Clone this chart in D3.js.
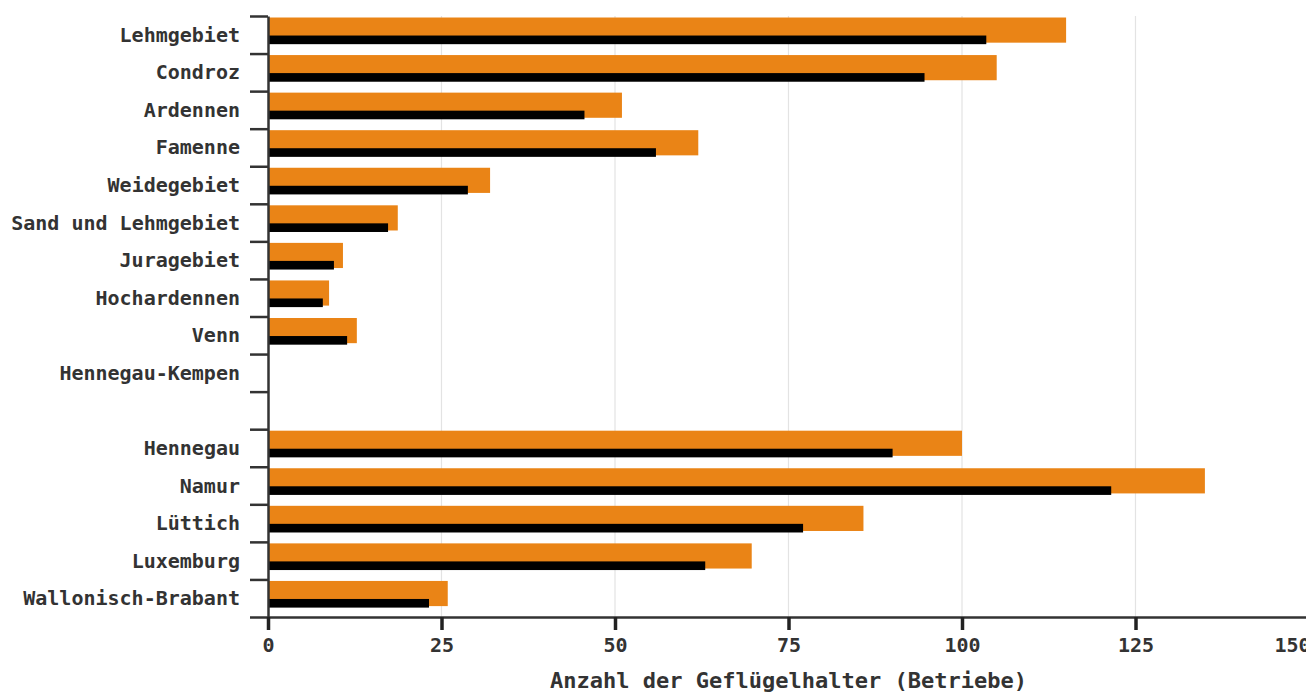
<!DOCTYPE html>
<html>
<head>
<meta charset="utf-8">
<script src="https://cdn.jsdelivr.net/npm/d3@7"></script>
<style>
  body { margin: 0; background: #fff; }
  text { font-family: "DejaVu Sans Mono", monospace; font-weight: bold; fill: #333; }
</style>
</head>
<body>
<script>
// regions (empty string = gap row)
var regions = ["Lehmgebiet", "Condroz", "Ardennen", "Famenne", "Weidegebiet",
  "Sand und Lehmgebiet", "Juragebiet", "Hochardennen", "Venn", "Hennegau-Kempen", "",
  "Hennegau", "Namur", "Lüttich", "Luxemburg", "Wallonisch-Brabant"];

// orange bars (wide) and black bars (narrow)
var orangeValues = [115, 105, 51, 62, 32, 18.7, 10.8, 8.8, 12.8, 0, 0, 100, 135, 85.8, 69.7, 25.9];
var blackValues = [103.5, 94.6, 45.6, 55.9, 28.8, 17.3, 9.5, 7.9, 11.4, 0, 0, 90, 121.5, 77.1, 63, 23.2];

var xTicks = [0, 25, 50, 75, 100, 125, 150];
var xLabel = "Anzahl der Geflügelhalter (Betriebe)";

var margin = {top: 16, left: 268},
    width = 1306,
    height = 693,
    plotWidth = 1041,
    plotHeight = 601;

var svg = d3.select("body").append("svg")
  .attr("width", width)
  .attr("height", height);

var g = svg.append("g")
  .attr("transform", "translate(" + margin.left + "," + margin.top + ")");

var x = d3.scaleLinear().domain([0, 150]).range([0, plotWidth]);

// use index as key so the empty row stays unique
var y = d3.scaleBand().domain(d3.range(regions.length)).range([0, plotHeight]).padding(0);
var step = y.step();

// gridlines
g.selectAll(".grid")
  .data(xTicks.slice(1))
  .enter().append("line")
  .attr("x1", function(d) { return x(d); })
  .attr("x2", function(d) { return x(d); })
  .attr("y1", 0)
  .attr("y2", plotHeight)
  .style("stroke", "#e3e3e3")
  .style("stroke-width", 1.2);

// orange bars
g.selectAll(".orange")
  .data(orangeValues)
  .enter().append("rect")
  .attr("x", 0)
  .attr("y", function(d, i) { return y(i) + step * 0.04; })
  .attr("width", function(d) { return x(d); })
  .attr("height", step * 0.67)
  .style("fill", "#ea8416");

// black bars
g.selectAll(".black")
  .data(blackValues)
  .enter().append("rect")
  .attr("x", 0)
  .attr("y", function(d, i) { return y(i) + step * 0.52; })
  .attr("height", step * 0.23)
  .attr("width", function(d) { return x(d); })
  .style("fill", "#000");

// y axis: labels in band centres
var yAxis = g.append("g")
  .call(d3.axisLeft(y).tickSize(0).tickPadding(28).tickFormat(function(i) { return regions[i]; }));
yAxis.select(".domain").remove();
yAxis.selectAll("text").style("font-size", "20px").attr("dy", "0.35em");

// y axis: ticks on band edges
var yEdges = d3.scaleLinear().domain([0, regions.length]).range([0, plotHeight]);
var yTickAxis = g.append("g")
  .call(d3.axisLeft(yEdges).tickValues(d3.range(regions.length + 1)).tickSizeInner(18).tickSizeOuter(0).tickFormat(""));
yTickAxis.selectAll("line").style("stroke", "#333").style("stroke-width", 2.5);
yTickAxis.select(".domain").style("stroke", "#333").style("stroke-width", 2.5);

// x axis
var xAxis = g.append("g")
  .attr("transform", "translate(0," + plotHeight + ")")
  .call(d3.axisBottom(x).tickValues(xTicks).tickSizeInner(13).tickSizeOuter(0).tickPadding(8));
xAxis.select(".domain").style("stroke", "#333").style("stroke-width", 2.5);
xAxis.selectAll("line").style("stroke", "#222").style("stroke-width", 3.5);
xAxis.selectAll("text").style("font-size", "20px");
// last label sits partly off the edge, nudge it in like the original
xAxis.selectAll("text").filter(function(d) { return d === 150; }).attr("dx", -17);

// x label
svg.append("text")
  .attr("x", margin.left + plotWidth / 2)
  .attr("y", 688)
  .attr("text-anchor", "middle")
  .style("font-size", "22px")
  .text(xLabel);
</script>
</body>
</html>
